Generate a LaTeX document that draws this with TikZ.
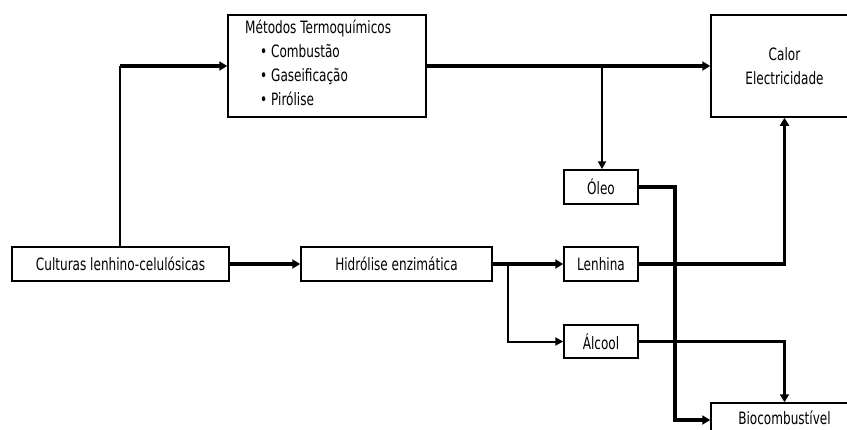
\documentclass[tikz,border=0pt]{standalone}
\usepackage{fontspec}
\setmainfont{DejaVu Sans}[FakeStretch=0.71]
\usetikzlibrary{arrows.meta,positioning}

\begin{document}
\begin{tikzpicture}[x=1pt,y=-1pt,
  font=\fontsize{17}{24}\selectfont,
  box/.style={draw,line width=1.5pt,inner sep=0pt},
  bigflow/.style={line width=3.6pt,-{Triangle[length=8pt,width=9pt]}},
  midflow/.style={line width=2pt,-{Triangle[length=8pt,width=8pt]}},
  thinline/.style={line width=1.3pt}]
\useasboundingbox (0,0) rectangle (847,429);
\clip (0,0) rectangle (847,429);
\node [box,minimum width=198pt,minimum height=102pt] (metodos) at (327,66) {};
\node [anchor=north west,align=left,inner sep=0pt] (metodostxt) at (245,20)
  {Métodos Termoquímicos\\
   \hspace{15pt}\textbullet\ Combustão\\
   \hspace{15pt}\textbullet\ Gaseificação\\
   \hspace{15pt}\textbullet\ Pirólise};
\node [box,minimum width=147pt,minimum height=102pt,align=center] (calor) at (784.5,66) {Calor\\Electricidade};
\node [box,minimum width=217pt,minimum height=34pt] (culturas) at (120.5,264) {Culturas lenhino-celulósicas};
\node [box,minimum width=191pt,minimum height=34pt] (hidrolise) at (396.5,264) {Hidrólise enzimática};
\node [box,minimum width=74pt,minimum height=34pt] (oleo) at (601,187) {Óleo};
\node [box,minimum width=74pt,minimum height=34pt] (lenhina) at (601,264) {Lenhina};
\node [box,minimum width=74pt,minimum height=33pt] (alcool) at (601,341.5) {Álcool};
\node [box,minimum width=147pt,minimum height=34pt] (bio) at (784.5,420) {};
\node [anchor=base,inner sep=0pt] (biotxt) at (784.5,424) {Biocombustível};
\coordinate (up) at (120,66);
\coordinate (split1) at (602,66);
\coordinate (split2) at (508,264);
\coordinate (down) at (675,420);
\draw [thinline] (culturas.north -| up) -- (up);
\draw [bigflow] (up) -- (metodos.west);
\draw [bigflow] (metodos.east) -- (calor.west);
\draw [midflow] (split1) -- (split1 |- oleo.north);
\draw [bigflow] (culturas) -- (hidrolise);
\draw [bigflow] (hidrolise) -- (lenhina);
\draw [midflow] (split2) |- (alcool.west);
\draw [bigflow] (lenhina.east) -| (calor.south);
\draw [bigflow] (alcool.east) -| (bio.north);
\draw [bigflow] (oleo.east) -| (down) -- (bio.west);
\end{tikzpicture}
\end{document}
